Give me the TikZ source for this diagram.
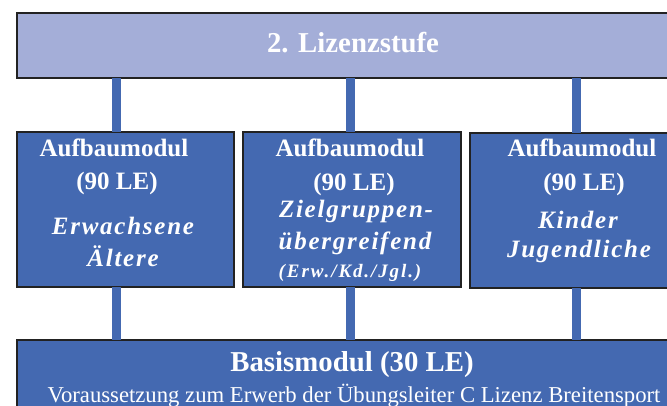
\documentclass[tikz,border=0pt]{standalone}
\usepackage{fontspec}
\setmainfont{Liberation Serif}
\newfontfamily\spit[LetterSpace=7]{Liberation Serif}
\newfontfamily\spitw[LetterSpace=10]{Liberation Serif}
\definecolor{lav}{HTML}{A4AED8}
\definecolor{blu}{HTML}{4469B1}
\definecolor{bord}{HTML}{222222}
\begin{document}
\begin{tikzpicture}[x=1pt,y=-1pt,
  box/.style={draw=bord,line width=2.5pt,rectangle,anchor=north west,inner sep=0pt,outer sep=0pt},
  bar/.style={draw=blu,line width=9.5pt},
  hd/.style={text=white,anchor=base,inner sep=0pt,font=\fontsize{25}{30}\selectfont\bfseries},
  big/.style={text=white,anchor=base,inner sep=0pt,font=\fontsize{28.8}{32}\selectfont\bfseries},
  sub/.style={text=white,anchor=base,inner sep=0pt,font=\fontsize{25}{30}\selectfont\spit\bfseries\itshape},
  tiny/.style={text=white,anchor=base,inner sep=0pt,font=\fontsize{19}{22}\selectfont\spitw\bfseries\itshape},
  plain/.style={text=white,anchor=base,inner sep=0pt,font=\fontsize{22.7}{27}\selectfont}]
\useasboundingbox (0,0) rectangle (667,406);
% boxes
\node[box,fill=lav,minimum width=667pt,minimum height=65pt] (top) at (17,13) {};
\node[box,fill=blu,minimum width=217pt,minimum height=155pt] (m1) at (17,132) {};
\node[box,fill=blu,minimum width=218pt,minimum height=155pt] (m2) at (243,132) {};
\node[box,fill=blu,minimum width=218pt,minimum height=155pt] (m3) at (470,133) {};
\node[box,fill=blu,minimum width=680pt,minimum height=90pt] (bot) at (17,340) {};
% bar positions
\coordinate (c1) at (116.5,0);
\coordinate (c2) at (350.5,0);
\coordinate (c3) at (576.5,0);
% bars
\draw[bar] (c1 |- top.south) -- (c1 |- m1.north);
\draw[bar] (c2 |- top.south) -- (c2 |- m2.north);
\draw[bar] (c3 |- top.south) -- (c3 |- m3.north);
\draw[bar] (c1 |- m1.south) -- (c1 |- bot.north);
\draw[bar] (c2 |- m2.south) -- (c2 |- bot.north);
\draw[bar] (c3 |- m3.south) -- (c3 |- bot.north);
% texts
\node[big] (ttop) at (353,53) {2. Lizenzstufe};
\node[hd] (a1) at (114,157) {Aufbaumodul};
\node[hd] (l1) at (117,190) {(90 LE)};
\node[sub] (s1a) at (123,235) {Erwachsene};
\node[sub] (s1b) at (123,267) {Ältere};
\node[hd] (a2) at (350,157) {Aufbaumodul};
\node[hd] (l2) at (354,191) {(90 LE)};
\node[sub] (s2a) at (356,218) {Zielgruppen-};
\node[sub] (s2b) at (355,250) {übergreifend};
\node[tiny] (s2c) at (350,277) {(Erw./Kd./Jgl.)};
\node[hd] (a3) at (582,157) {Aufbaumodul};
\node[hd] (l3) at (584,191) {(90 LE)};
\node[sub] (s3a) at (578,229) {Kinder};
\node[sub] (s3b) at (579,258) {Jugendliche};
\node[big] (bt) at (352,371) {Basismodul (30 LE)};
\node[plain] (bs) at (354,402) {Voraussetzung zum Erwerb der Übungsleiter C Lizenz Breitensport};
\end{tikzpicture}
\end{document}
